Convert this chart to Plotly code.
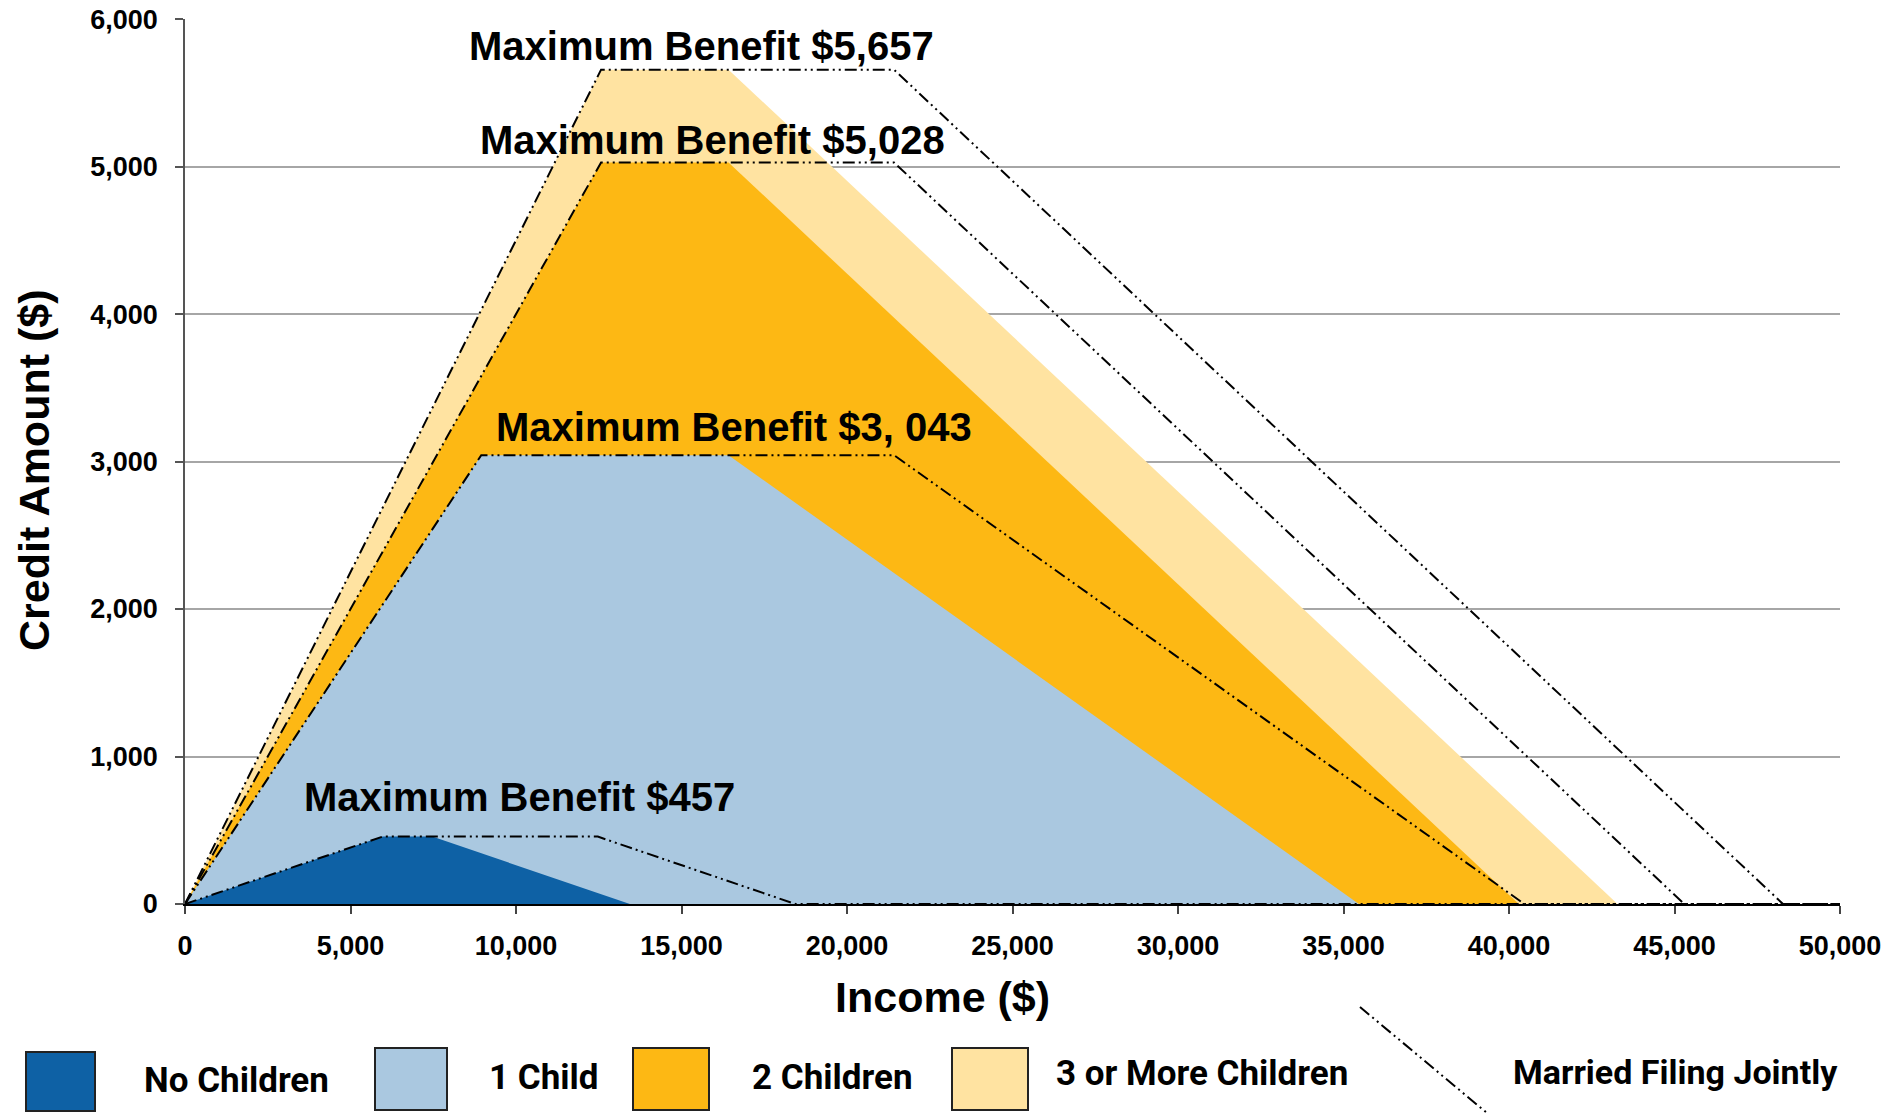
import plotly.graph_objects as go

# ---- data (2009 EITC parameters) ----
categories = ["No Children", "1 Child", "2 Children", "3 or More Children"]
max_benefit = [457, 3043, 5028, 5657]
phase_in_end = [5970, 8950, 12570, 12570]
phaseout_start_single = [7470, 16420, 16420, 16420]
phaseout_end_single = [13440, 35463, 40295, 43279]
phaseout_start_mfj = [12470, 21420, 21420, 21420]
phaseout_end_mfj = [18440, 40463, 45295, 48279]
benefit_labels = ["Maximum Benefit $457", "Maximum Benefit $3, 043",
                  "Maximum Benefit $5,028", "Maximum Benefit $5,657"]
label_x = [10100, 16600, 15950, 15600]
label_y = [725, 3234, 5180, 5817]
x_ticks = [0, 5000, 10000, 15000, 20000, 25000, 30000, 35000, 40000, 45000, 50000]
y_ticks = [0, 1000, 2000, 3000, 4000, 5000, 6000]
colors = ["#0E61A5", "#AAC8E0", "#FDB814", "#FFE3A1"]
mfj_label = "Married Filing Jointly"

FONT = "Liberation Sans, Arial, sans-serif"
LEGFONT = "Liberation Sans Narrow, Arial Narrow, Roboto, sans-serif"

# plot area in screen pixels (body margin removed below)
L, R, T, B = 185, 1840, 19, 904
W, H = 1895, 1113
def px(x):
    return (x - L) / (R - L)
def py(y):
    return (B - y) / (B - T)

fig = go.Figure()

# areas: draw from largest to smallest
for i in [3, 2, 1, 0]:
    xs = [0, phase_in_end[i], phaseout_start_single[i], phaseout_end_single[i]]
    ys = [0, max_benefit[i], max_benefit[i], 0]
    fig.add_trace(go.Scatter(x=xs, y=ys, fill="tozeroy", mode="lines",
                             line=dict(width=0, color=colors[i]),
                             fillcolor=colors[i], name=categories[i],
                             showlegend=False, hoverinfo="skip"))

DASH = "12px,4px,2px,4px,2px,4px"
# married filing jointly lines
for i in [3, 2, 1, 0]:
    xs = [0, phase_in_end[i], phaseout_start_mfj[i], phaseout_end_mfj[i], 50000]
    ys = [0, max_benefit[i], max_benefit[i], 0, 0]
    fig.add_trace(go.Scatter(x=xs, y=ys, mode="lines",
                             line=dict(color="black", width=2, dash=DASH),
                             name=mfj_label, showlegend=False, hoverinfo="skip"))

annotations = []
for t, xv, yv in zip(benefit_labels, label_x, label_y):
    annotations.append(dict(x=xv, y=yv, xref="x", yref="y", text=t,
                            showarrow=False, xanchor="center", yanchor="middle",
                            font=dict(family=FONT, size=40, color="black", weight="bold")))

# axis titles
annotations.append(dict(x=px(942), y=py(997), xref="paper", yref="paper",
                        text="Income ($)", showarrow=False,
                        xanchor="center", yanchor="middle",
                        font=dict(family=FONT, size=43, color="black", weight="bold")))
annotations.append(dict(x=px(34), y=py(470), xref="paper", yref="paper",
                        text="Credit Amount ($)", showarrow=False, textangle=-90,
                        xanchor="center", yanchor="middle",
                        font=dict(family=FONT, size=43, color="black", weight="bold")))

# custom legend
shapes = []
boxes = [(26, 95, 1052, 1111), (375, 447, 1048, 1110),
         (633, 709, 1048, 1110), (952, 1028, 1048, 1110)]
text_pos = [(142, 1080), (487, 1077), (750, 1077), (1054, 1073)]
for i in range(4):
    x0, x1, y0, y1 = boxes[i]
    shapes.append(dict(type="rect", xref="paper", yref="paper",
                       x0=px(x0), x1=px(x1), y0=py(y1), y1=py(y0),
                       fillcolor=colors[i], line=dict(color="#222222", width=2)))
    tx, ty = text_pos[i]
    annotations.append(dict(x=px(tx), y=py(ty), xref="paper", yref="paper",
                            text=categories[i], showarrow=False,
                            xanchor="left", yanchor="middle",
                            font=dict(family=LEGFONT, size=35, color="black", weight="bold")))
shapes.append(dict(type="line", xref="paper", yref="paper",
                   x0=px(1360), y0=py(1007), x1=px(1487), y1=py(1113),
                   line=dict(color="black", width=2, dash=DASH)))
annotations.append(dict(x=px(1511), y=py(1072), xref="paper", yref="paper",
                        text=mfj_label, showarrow=False,
                        xanchor="left", yanchor="middle",
                        font=dict(family=LEGFONT, size=34, color="black", weight="bold")))

fig.update_layout(
    width=W, height=H,
    margin=dict(l=L, r=W - R, t=T, b=H - B, autoexpand=False),
    plot_bgcolor="white", paper_bgcolor="white",
    showlegend=False,
    annotations=annotations, shapes=shapes,
    font=dict(family=FONT, color="black"),
)
fig.update_xaxes(range=[0, 50000], tickvals=x_ticks,
                 ticktext=[f"{v:,}" for v in x_ticks],
                 showgrid=False, zeroline=False,
                 showline=True, linecolor="black", linewidth=2,
                 ticks="outside", ticklen=8, tickwidth=1.5, tickcolor="#444",
                 ticklabelstandoff=9, ticklabeloverflow="allow",
                 tickfont=dict(family=FONT, size=27, color="black", weight="bold"))
fig.update_yaxes(range=[0, 6000.5], tickvals=y_ticks,
                 ticktext=[f"{v:,}" for v in y_ticks],
                 showgrid=True, gridcolor="#A6A6A6", gridwidth=1.5,
                 zeroline=False,
                 showline=True, linecolor="#555", linewidth=1.5,
                 ticks="outside", ticklen=8, tickwidth=1.5, tickcolor="#555",
                 ticklabelstandoff=12, ticklabeloverflow="allow",
                 tickfont=dict(family=FONT, size=27, color="black", weight="bold"))

fig.write_html("out.html", config={"displayModeBar": False},
               post_script="document.body.style.margin='0';document.body.style.overflow='hidden';")
